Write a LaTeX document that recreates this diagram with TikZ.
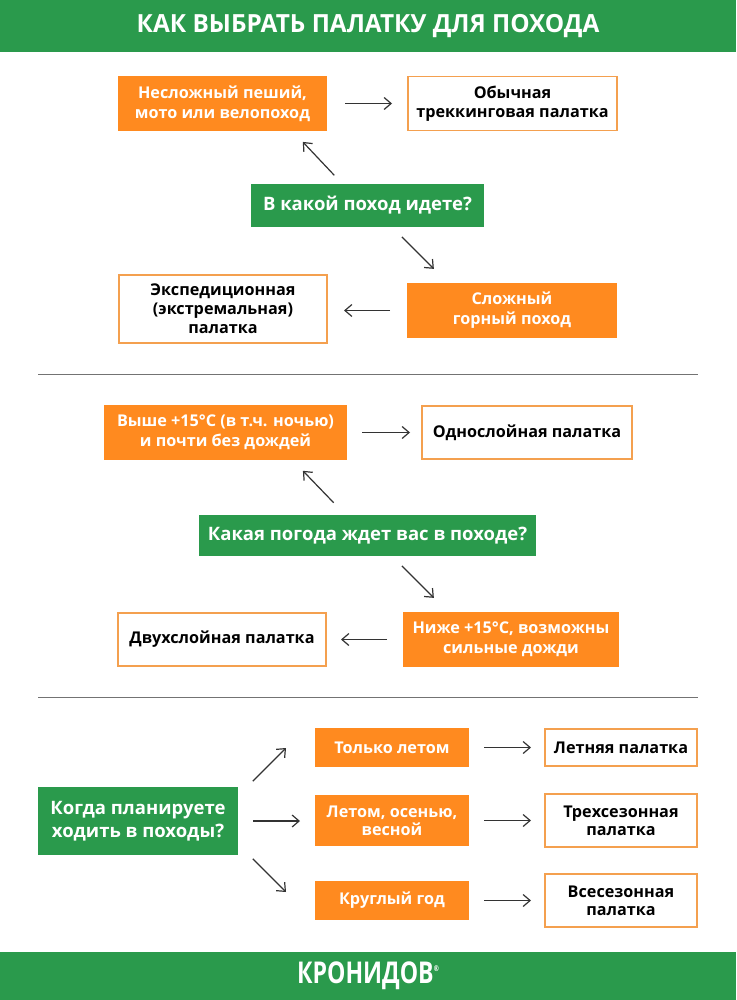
\documentclass[tikz,border=0pt]{standalone}
\usepackage{fontspec}
\setmainfont{Open Sans}
\usetikzlibrary{positioning,arrows.meta}
\definecolor{kgreen}{HTML}{2A9A4C}
\definecolor{korange}{HTML}{FF8A1F}
\definecolor{kedge}{HTML}{F4A04F}
\tikzset{
	greenbox/.style={fill=kgreen, text=white, inner sep=0pt, outer sep=0pt, align=center, font=\fontsize{18.5}{23}\selectfont\bfseries},
	orangebox/.style={fill=korange, text=white, inner sep=0pt, outer sep=0pt, align=center, font=\fontsize{16.2}{20}\selectfont\bfseries},
	whitebox/.style={draw=kedge, line width=1.8pt, fill=white, text=black, inner sep=0pt, outer sep=0pt, align=center, font=\fontsize{16.2}{19}\selectfont\bfseries},
	conn/.style={draw=black!80, line width=1.2pt, -{Straight Barb[length=7pt,width=12pt]}},
	rule/.style={draw=black!55, line width=.8pt}
}
\begin{document}
\begin{tikzpicture}[x=1pt,y=-1pt]
	\useasboundingbox (0,0) rectangle (736,1000);
	\fill[kgreen] (0,0) rectangle (736,52);
	\fill[kgreen] (0,952) rectangle (736,1000);
	\node[text=white, font=\fontsize{25}{30}\selectfont\bfseries] (title) at (368,26) {\scalebox{.975}[1]{КАК ВЫБРАТЬ ПАЛАТКУ ДЛЯ ПОХОДА}};
	\node[text=white, font=\fontsize{30}{30}\selectfont\bfseries] (logo) at (368,976) {\scalebox{.77}[1]{КРОНИДОВ\raisebox{12pt}{\fontsize{8}{8}\selectfont ®}}};

	\node[orangebox, minimum width=209pt, minimum height=55pt] (easy) at (222.5,103.5) {Несложный пеший,\\мото или велопоход};
	\node[whitebox, minimum width=209pt, minimum height=54pt, right=81pt of easy] (trek) {Обычная\\треккинговая палатка};
	\node[greenbox, minimum width=233pt, minimum height=43pt] (hike) at (367.5,205.5) {В какой поход идете?};
	\node[orangebox, minimum width=210pt, minimum height=55pt] (hard) at (512,310.5) {Сложный\\горный поход};
	\node[whitebox, minimum width=208pt, minimum height=68pt] (expd) at (223,309) {Экспедиционная\\(экстремальная)\\палатка};

	\draw[rule] (38,374.5) coordinate (ruleAa) -- (698,374.5) coordinate (ruleAb);

	\node[orangebox, minimum width=243pt, minimum height=55pt] (warm) at (225.5,432.5) {Выше +15°C (в т.ч. ночью)\\и почти без дождей};
	\node[whitebox, minimum width=210pt, minimum height=53pt, right=75pt of warm] (single) {Однослойная палатка};
	\node[greenbox, minimum width=337pt, minimum height=41pt] (weather) at (367.5,535.5) {Какая погода ждет вас в походе?};
	\node[orangebox, minimum width=216pt, minimum height=55pt] (cold) at (511,639.5) {Ниже +15°C, возможны\\сильные дожди};
	\node[whitebox, minimum width=208pt, minimum height=53pt, left=77pt of cold] (double) {Двухслойная палатка};

	\draw[rule] (38,697.5) coordinate (ruleBa) -- (698,697.5) coordinate (ruleBb);

	\node[greenbox, minimum width=200pt, minimum height=68pt] (when) at (138,821) {Когда планируете\\ходить в походы?};
	\node[orangebox, minimum width=154pt, minimum height=39pt] (summer) at (392,747.5) {Только летом};
	\node[orangebox, minimum width=154pt, minimum height=51pt, font=\fontsize{16.2}{18}\selectfont\bfseries] (three) at (392,820.5) {Летом, осенью,\\весной};
	\node[orangebox, minimum width=154pt, minimum height=39pt] (year) at (392,900.5) {Круглый год};
	\node[whitebox, minimum width=152pt, minimum height=37pt] (tsummer) at (621,747.5) {Летняя палатка};
	\node[whitebox, minimum width=152pt, minimum height=53pt, font=\fontsize{16.2}{18}\selectfont\bfseries] (tthree) at (621,820.5) {Трехсезонная\\палатка};
	\node[whitebox, minimum width=152pt, minimum height=53pt, font=\fontsize{16.2}{18}\selectfont\bfseries] (tyear) at (621,900.5) {Всесезонная\\палатка};

	\draw[conn, shorten <=18pt, shorten >=16pt] (easy.east) -- (easy.east -| trek.west);
	\draw[conn, shorten <=12pt, shorten >=15pt] ([xshift=-25pt]hike.north) -- ([xshift=70pt]easy.south);
	\draw[conn, shorten <=14pt, shorten >=20pt] ([xshift=24.5pt]hike.south) -- ([xshift=-64pt]hard.north);
	\draw[conn, shorten <=17pt, shorten >=17pt] (hard.west) -- (hard.west -| expd.east);

	\draw[conn, shorten <=15pt, shorten >=12pt] (warm.east) -- (warm.east -| single.west);
	\draw[conn, shorten <=17pt, shorten >=15pt] ([xshift=-22pt]weather.north) -- ([xshift=67pt]warm.south);
	\draw[conn, shorten <=14pt, shorten >=20pt] ([xshift=24.5pt]weather.south) -- ([xshift=-63pt]cold.north);
	\draw[conn, shorten <=16pt, shorten >=15pt] (cold.west) -- (cold.west -| double.east);

	\draw[conn, shorten <=21pt, shorten >=41pt] ([yshift=25pt]when.east) -- ([yshift=28.5pt]summer.west);
	\draw[conn, shorten <=15pt, shorten >=15pt] (when.east) -- (when.east -| three.west);
	\draw[conn, shorten <=21pt, shorten >=41pt] ([yshift=-23pt]when.east) -- ([yshift=-20.5pt]year.west);
	\draw[conn, shorten <=15pt, shorten >=14pt] (summer.east) -- (tsummer.west);
	\draw[conn, shorten <=15pt, shorten >=14pt] (three.east) -- (tthree.west);
	\draw[conn, shorten <=15pt, shorten >=14pt] (year.east) -- (tyear.west);
\end{tikzpicture}
\end{document}
